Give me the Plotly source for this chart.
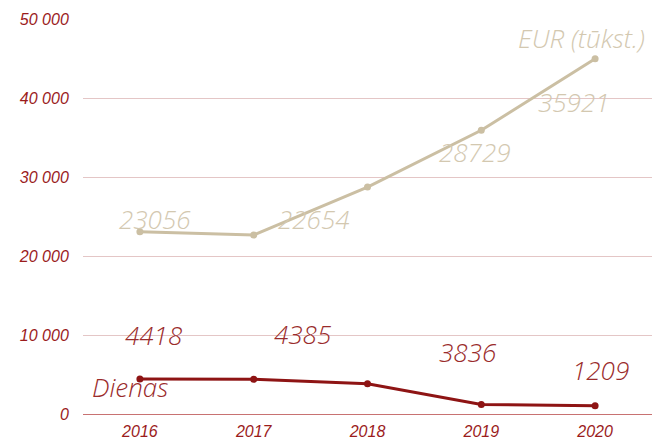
import plotly.graph_objects as go

years = [2016, 2017, 2018, 2019, 2020]
eur_values = [23056, 22654, 28729, 35921, 44980]
dienas_values = [4418, 4385, 3836, 1209, 1050]
eur_labels = ["23056", "22654", "28729", "35921", "EUR (tūkst.)"]
dienas_labels = ["4418", "4385", "3836", "1209"]
series_name_dienas = "Dienas"
y_ticks = [0, 10000, 20000, 30000, 40000, 50000]
y_tick_text = ["0", "10 000", "20 000", "30 000", "40 000", "50 000"]

EUR_LINE = "#cbbfa3"
EUR_TEXT = "#d3c8b0"
DIEN_LINE = "#8e1414"
DIEN_TEXT = "#9a2b2b"
AXIS_TEXT = "#9b1c1c"

fig = go.Figure()
fig.add_trace(go.Scatter(x=years, y=eur_values, mode="lines+markers",
                         line=dict(color=EUR_LINE, width=3),
                         marker=dict(color=EUR_LINE, size=7), showlegend=False))
fig.add_trace(go.Scatter(x=years, y=dienas_values, mode="lines+markers",
                         line=dict(color=DIEN_LINE, width=3),
                         marker=dict(color=DIEN_LINE, size=7), showlegend=False))

lab_font = dict(family="Open Sans", size=26, style="italic", weight=300)
eur_shifts = [(15, 13), (60, 16), (107, 35), (93, 28), (-14, 21)]
for x, y, t, (dx, dy) in zip(years, eur_values, eur_labels, eur_shifts):
    fig.add_annotation(x=x, y=y, text=t, showarrow=False, xshift=dx, yshift=dy,
                       font=dict(color=EUR_TEXT, **lab_font))
dien_shifts = [(14, 44), (49, 45), (100, 32), (119, 34)]
for x, y, t, (dx, dy) in zip(years, dienas_values, dienas_labels, dien_shifts):
    fig.add_annotation(x=x, y=y, text=t, showarrow=False, xshift=dx, yshift=dy,
                       font=dict(color=DIEN_TEXT, **lab_font))
fig.add_annotation(x=years[0], y=dienas_values[0], text=series_name_dienas, showarrow=False,
                   xshift=-10, yshift=-8, font=dict(color=DIEN_TEXT, **lab_font))

tick_font = dict(family="Liberation Sans", size=16, color=AXIS_TEXT, style="italic")
fig.update_xaxes(range=[2015.5, 2020.5], tickvals=years, ticktext=[str(y) for y in years],
                 showgrid=False, zeroline=False, showline=False, tickfont=tick_font,
                 ticks="outside", ticklen=3, tickcolor="rgba(0,0,0,0)", automargin=False)
fig.update_yaxes(range=[0, 50000], tickvals=y_ticks, ticktext=y_tick_text,
                 showgrid=True, gridcolor="#e4c6c6", gridwidth=1,
                 zeroline=True, zerolinecolor="#c87272", zerolinewidth=1,
                 showline=False, tickfont=tick_font,
                 ticks="outside", ticklen=10, tickcolor="rgba(0,0,0,0)", automargin=False)
fig.update_layout(width=653, height=438, margin=dict(l=83, r=1, t=19, b=24),
                  plot_bgcolor="white", paper_bgcolor="white")
fig.write_html("out.html", config={"displayModeBar": False},
               post_script="document.body.style.margin='0';")
